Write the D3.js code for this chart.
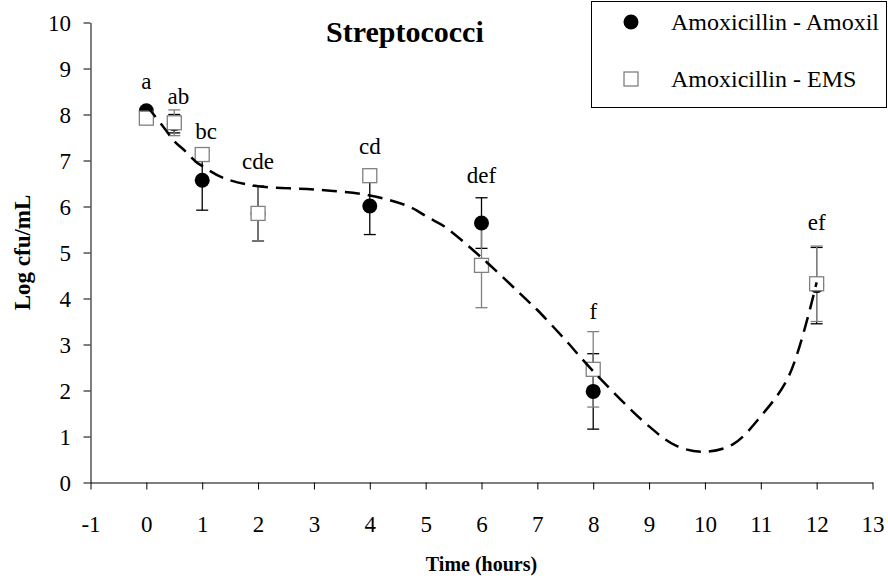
<!DOCTYPE html>
<html>
<head>
<meta charset="utf-8">
<script src="https://cdn.jsdelivr.net/npm/d3@7"></script>
<style>
  html, body { margin: 0; padding: 0; background: #fff; }
  svg { display: block; }
  text { font-family: "Liberation Serif", "Times New Roman", serif; fill: #000; }
</style>
</head>
<body>
<svg id="chart" width="888" height="581"></svg>
<script>
// ---- Data ----
const times = [0, 0.5, 1, 2, 4, 6, 8, 12];
const amoxilMean = [8.08, 7.80, 6.57, 5.85, 6.01, 5.64, 1.98, 4.28];
const amoxilSD   = [0.05, 0.20, 0.65, 0.60, 0.62, 0.55, 0.82, 0.83];
const emsMean    = [7.92, 7.82, 7.13, 5.85, 6.67, 4.72, 2.46, 4.32];
const emsSD      = [0.05, 0.28, 0.10, 0.60, 0.10, 0.92, 0.82, 0.82];
const sigLabels  = ["a", "ab", "bc", "cde", "cd", "def", "f", "ef"];
const sigLabelY  = [8.56, 8.22, 7.46, 6.82, 7.15, 6.51, 3.56, 5.5];
const trendT = [0, 0.33, 0.5, 0.7, 0.88, 1, 1.38, 2, 3, 4, 4.7, 5.06, 5.33, 6, 6.87, 7, 7.5, 8, 9, 9.5, 10, 10.5, 11, 11.5, 12];
const trendY = [8.2, 7.69, 7.42, 7.2, 6.98, 6.88, 6.62, 6.44, 6.37, 6.24, 6.0, 5.75, 5.57, 4.89, 3.9, 3.75, 3.1, 2.42, 1.22, 0.79, 0.67, 0.83, 1.44, 2.31, 4.35];
const xTicks = [-1, 0, 1, 2, 3, 4, 5, 6, 7, 8, 9, 10, 11, 12, 13];
const yTicks = [0, 1, 2, 3, 4, 5, 6, 7, 8, 9, 10];
const seriesNames = ["Amoxicillin - Amoxil", "Amoxicillin - EMS"];
const titleText = "Streptococci";
const xTitle = "Time (hours)";
const yTitle = "Log cfu/mL";

// ---- Layout ----
const svg = d3.select("#chart");
const x = d3.scaleLinear().domain([-1, 13]).range([90.5, 872.5]);
const y = d3.scaleLinear().domain([0, 10]).range([482.5, 22.5]);
const GRAY = "#808080";

// Axes
const xAxis = svg.append("g").attr("transform", `translate(0,${y(0)})`)
  .call(d3.axisBottom(x).tickValues(xTicks).tickFormat(d => String(d)).tickSize(7).tickSizeOuter(0));
xAxis.attr("font-family", null);
xAxis.select(".domain").attr("stroke", "#000");
xAxis.selectAll(".tick line").attr("stroke", "#000");
xAxis.selectAll(".tick text").attr("y", 0).attr("dy", 0).attr("transform", "translate(0,49)")
  .style("font-size", "23px");

const yAxis = svg.append("g").attr("transform", `translate(${x(-1)},0)`)
  .call(d3.axisLeft(y).tickValues(yTicks).tickFormat(d => String(d)).tickSize(7).tickSizeOuter(0));
yAxis.attr("font-family", null);
yAxis.select(".domain").attr("stroke", "#000");
yAxis.selectAll(".tick line").attr("stroke", "#000");
yAxis.selectAll(".tick text").attr("x", -19.5).attr("dy", "0.33em")
  .style("font-size", "23px");

// Axis titles
svg.append("text").attr("x", (x(-1) + x(13)) / 2).attr("y", 571)
  .attr("text-anchor", "middle").style("font-size", "20px").style("font-weight", "bold").text(xTitle);
svg.append("text").attr("transform", `translate(30,${(y(0) + y(10)) / 2}) rotate(-90)`)
  .attr("text-anchor", "middle").style("font-size", "23px").style("font-weight", "bold").text(yTitle);

// Title
svg.append("text").attr("x", 326).attr("y", 42).attr("text-anchor", "start")
  .style("font-size", "30px").style("font-weight", "bold").text(titleText);

// Error bars
function errorBars(means, sds, color) {
  const g = svg.append("g").attr("stroke", color).attr("stroke-width", 1.3).attr("fill", "none");
  times.forEach((t, i) => {
    const cx = x(t), top = y(means[i] + sds[i]), bot = y(means[i] - sds[i]);
    g.append("line").attr("x1", cx).attr("x2", cx).attr("y1", top).attr("y2", bot);
    g.append("line").attr("x1", cx - 6).attr("x2", cx + 6).attr("y1", top).attr("y2", top);
    g.append("line").attr("x1", cx - 6).attr("x2", cx + 6).attr("y1", bot).attr("y2", bot);
  });
}
errorBars(amoxilMean, amoxilSD, "#000");
errorBars(emsMean, emsSD, GRAY);

// Markers
svg.append("g").selectAll("circle").data(times).join("circle")
  .attr("cx", d => x(d)).attr("cy", (d, i) => y(amoxilMean[i])).attr("r", 7.5).attr("fill", "#000");
svg.append("g").selectAll("rect").data(times).join("rect")
  .attr("x", d => x(d) - 7).attr("y", (d, i) => y(emsMean[i]) - 7)
  .attr("width", 14).attr("height", 14).attr("fill", "#fff").attr("stroke", GRAY).attr("stroke-width", 1.3);

// Trend curve (dashed)
const line = d3.line().x(d => x(d[0])).y(d => y(d[1])).curve(d3.curveCatmullRom.alpha(0.5));
svg.append("path").datum(trendT.map((t, i) => [t, trendY[i]]))
  .attr("d", line).attr("fill", "none").attr("stroke", "#000").attr("stroke-width", 2.5)
  .attr("stroke-dasharray", "15,8");

// Significance labels
svg.append("g").selectAll("text").data(sigLabels).join("text")
  .attr("x", (d, i) => x(times[i]) + (i === 1 ? 4 : (i === 2 ? 4 : 0)))
  .attr("y", (d, i) => y(sigLabelY[i]))
  .attr("text-anchor", "middle").style("font-size", "23px").text(d => d);

// Legend
const lg = svg.append("g");
lg.append("rect").attr("x", 591.5).attr("y", 1.5).attr("width", 295).attr("height", 106)
  .attr("fill", "#fff").attr("stroke", "#000").attr("stroke-width", 1);
lg.append("circle").attr("cx", 631).attr("cy", 22).attr("r", 7.5).attr("fill", "#000");
lg.append("rect").attr("x", 624).attr("y", 72).attr("width", 14).attr("height", 14)
  .attr("fill", "#fff").attr("stroke", GRAY).attr("stroke-width", 1.3);
lg.append("text").attr("x", 671).attr("y", 30).style("font-size", "24px").text(seriesNames[0]);
lg.append("text").attr("x", 671).attr("y", 87).style("font-size", "24px").text(seriesNames[1]);
</script>
</body>
</html>
